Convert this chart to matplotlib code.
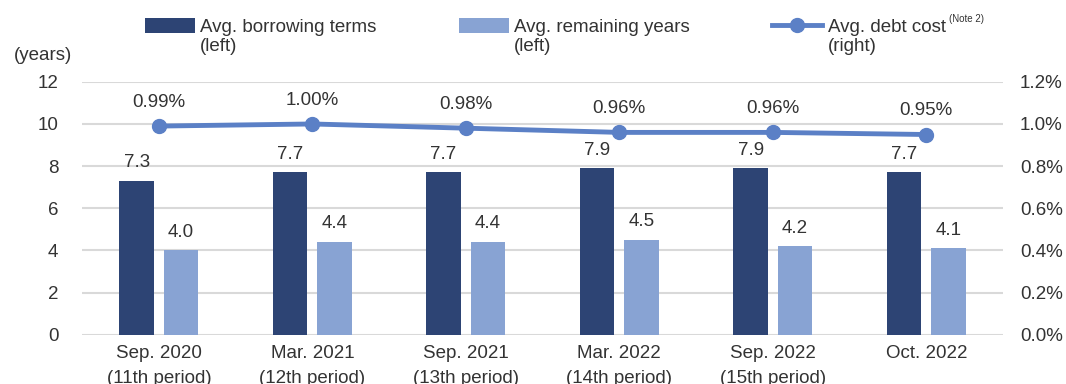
import numpy as np
import matplotlib.pyplot as plt

plt.rcParams['font.family'] = ['Liberation Sans', 'DejaVu Sans']

periods = ["Sep. 2020\n(11th period)", "Mar. 2021\n(12th period)", "Sep. 2021\n(13th period)",
           "Mar. 2022\n(14th period)", "Sep. 2022\n(15th period)", "Oct. 2022"]
borrowing_terms = [7.3, 7.7, 7.7, 7.9, 7.9, 7.7]
remaining_years = [4.0, 4.4, 4.4, 4.5, 4.2, 4.1]
debt_cost = [0.99, 1.00, 0.98, 0.96, 0.96, 0.95]

dark = '#2d4474'
light = '#88a3d3'
line_c = '#5b80c6'
txt = '#333333'
grid_c = '#d9d9d9'
fs = 13.5

fig = plt.figure(figsize=(10.66, 3.84), dpi=100)
ax = fig.add_axes([0.077, 0.128, 0.864, 0.659])
ax2 = ax.twinx()

x = np.arange(len(periods))
w = 0.225
off = 0.145
b1 = ax.bar(x - off, borrowing_terms, w, color=dark, zorder=3)
b2 = ax.bar(x + off, remaining_years, w, color=light, zorder=3)
ax.bar_label(b1, labels=[f"{v:.1f}" for v in borrowing_terms], padding=7, fontsize=fs, color=txt)
ax.bar_label(b2, labels=[f"{v:.1f}" for v in remaining_years], padding=7, fontsize=fs, color=txt)

ln, = ax2.plot(x, debt_cost, color=line_c, lw=3.5, marker='o', ms=10, zorder=4)
for xi, v in zip(x, debt_cost):
    ax2.annotate(f"{v:.2f}%", (xi, v), xytext=(0, 11), textcoords='offset points',
                 ha='center', va='bottom', fontsize=fs, color=txt)

ax.set_xlim(-0.5, len(periods) - 0.5)
ax.set_ylim(0, 12)
ax.set_yticks(np.arange(0, 13, 2))
ax2.set_ylim(0, 1.2)
ax2.set_yticks(np.arange(0, 1.21, 0.2))
ax2.set_yticklabels([f"{v:.1f}%" for v in np.arange(0, 1.21, 0.2)])
ax.set_xticks(x)
ax.set_xticklabels(periods, linespacing=1.62, va='top')

ax.grid(axis='y', color=grid_c, lw=1.5, zorder=0)
ax.set_axisbelow(True)
for a in (ax, ax2):
    for s in a.spines.values():
        s.set_visible(False)
    a.tick_params(length=0, labelsize=fs, colors=txt)
ax.tick_params(axis='y', pad=17)
ax.tick_params(axis='x', pad=7)
ax2.tick_params(axis='y', pad=12)

fig.text(14 / 1066, 1 - 55 / 384, "(years)", fontsize=fs, color=txt, ha='left', va='center')

leg = fig.legend([b1, b2, ln], ["Avg. borrowing terms", "Avg. remaining years", "Avg. debt cost"],
                 loc='upper left', bbox_to_anchor=(145 / 1066, 1 - 18 / 384), ncol=3, frameon=False,
                 fontsize=fs, handlelength=2.67, handleheight=0.85, handletextpad=0.27,
                 columnspacing=4.4, borderpad=0, borderaxespad=0, labelcolor=txt)

fig.canvas.draw()
inv = fig.transFigure.inverted()
for t, sub in zip(leg.get_texts(), ["(left)", "(left)", "(right)"]):
    bb = t.get_window_extent()
    x0, y0 = inv.transform((bb.x0, bb.y0))
    fig.text(x0, y0 - 0.005, sub, fontsize=fs, color=txt, ha='left', va='top')
bb = leg.get_texts()[2].get_window_extent()
x1, y1 = inv.transform((bb.x1, bb.y1))
fig.text(x1 + 0.003, y1 + 0.012, "(Note 2)", fontsize=7, color=txt, ha='left', va='top')

fig.savefig("out.png", dpi=100)
